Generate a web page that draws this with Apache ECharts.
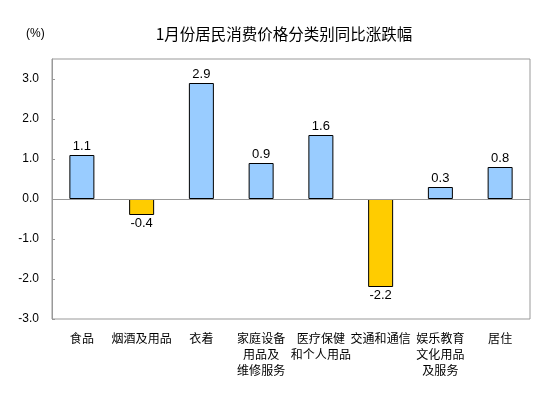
<!DOCTYPE html>
<html>
<head>
<meta charset="utf-8">
<script src="https://cdn.jsdelivr.net/npm/echarts@6/dist/echarts.min.js"></script>
<style>html,body{margin:0;padding:0;background:#fff}#c{width:553px;height:398px}</style>
</head>
<body>
<div id="c"></div>
<script>
const categories = ['食品', '烟酒及用品', '衣着', '家庭设备\n用品及\n维修服务', '医疗保健\n和个人用品', '交通和通信', '娱乐教育\n文化用品\n及服务', '居住'];
const values = [1.1, -0.4, 2.9, 0.9, 1.6, -2.2, 0.3, 0.8];
const yTicks = [-3, -2, -1, 0, 1, 2, 3];

const chart = echarts.init(document.getElementById('c'), null, {renderer: 'canvas'});
chart.setOption({
  animation: false,
  backgroundColor: '#fff',
  title: {
    text: '1月份居民消费价格分类别同比涨跌幅',
    left: 279, top: 21, textAlign: 'center',
    textStyle: {fontFamily: 'Noto Sans CJK SC', fontSize: 15.5, fontWeight: 'normal', color: '#000'}
  },
  graphic: [{
    type: 'text', left: 26, top: 28,
    style: {text: '(%)', font: '12px "Liberation Sans", Arial', fill: '#000'}
  }],
  grid: {left: 52, right: 23, top: 59, bottom: 79, show: true, borderColor: '#999', borderWidth: 1, containLabel: false},
  xAxis: {
    type: 'category', data: categories, position: 'bottom',
    axisLine: {show: false, onZero: false},
    axisTick: {show: false},
    axisLabel: {
      interval: 0, margin: 11, color: '#000',
      fontFamily: 'Noto Sans CJK SC', fontSize: 12, lineHeight: 16, align: 'center'
    }
  },
  yAxis: {
    type: 'value', min: -3, max: 3.5, interval: 0.5,
    axisLine: {show: true, lineStyle: {color: '#999'}},
    axisTick: {show: true, inside: true, length: 3, customValues: yTicks, lineStyle: {color: '#999'}},
    splitLine: {show: false},
    axisLabel: {
      customValues: yTicks, margin: 13, color: '#000',
      fontFamily: 'Liberation Sans', fontSize: 12,
      formatter: v => v.toFixed(1)
    }
  },
  series: [{
    type: 'bar', barWidth: 25,
    data: values.map(v => ({
      value: v,
      itemStyle: {color: v >= 0 ? '#99CCFF' : '#FFCC00'},
      label: {position: v >= 0 ? 'top' : 'bottom'}
    })),
    itemStyle: {borderColor: '#000', borderWidth: 1},
    label: {show: true, distance: 2, color: '#000', fontFamily: 'Liberation Sans', fontSize: 13, formatter: p => p.value.toFixed(1)},
    markLine: {
      silent: true, symbol: 'none', label: {show: false},
      lineStyle: {color: '#999', type: 'solid', width: 1},
      data: [{yAxis: 0}]
    }
  }]
});
</script>
</body>
</html>
